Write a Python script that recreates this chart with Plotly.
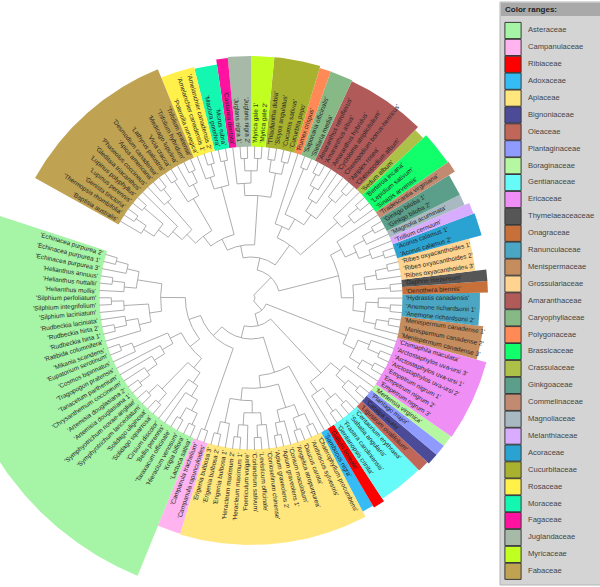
import math
import plotly.graph_objects as go

# ---------------- data ----------------
LEGEND_FAMILIES = ["Asteraceae", "Campanulaceae", "Ribiaceae", "Adoxaceae", "Apiaceae",
                   "Bignoniaceae", "Oleaceae", "Plantaginaceae", "Boraginaceae", "Gentianaceae",
                   "Ericaceae", "Thymelaeaceaceae", "Onagraceae", "Ranunculaceae", "Menispermaceae",
                   "Grossulariaceae", "Amaranthaceae", "Caryophyllaceae", "Polygonaceae", "Brassicaceae",
                   "Crassulaceae", "Ginkgoaceae", "Commelinaceae", "Magnoliaceae", "Melanthiaceae",
                   "Acoraceae", "Cucurbitaceae", "Rosaceae", "Moraceae", "Fagaceae", "Juglandaceae",
                   "Myricaceae", "Fabaceae"]

CLADES = {
    "Asteraceae": [
        [[[["Echinacea purpurea 2", "Echinacea purpurea 1"], "Echinacea purpurea 3"],
          [["Helianthus annuus", "Helianthus nuttallii"], "Helianthus mollis"]],
         [[["Silphium perfoliatum", "Silphium integrifolium"], "Silphium laciniatum"],
          [["Rudbeckia laciniata", ["Rudbeckia hirta 2", "Rudbeckia hirta 1"]], "Ratibida columnifera"]]],
        [[[["Mikania scandens", "Eupatorium serotinum"], "Cosmos bipinnatus"],
          ["Tragopogon pratensis", ["Tanacetum parthenium",
                                    ["Chrysanthemum coccineum",
                                     ["Artemisia douglasiana 2", "Artemisia douglasiana 1"]]]]],
         [[["Symphyotrichum novae-angliae", "Symphyotrichum lanceolatum"],
           ["Solidago uliginosa", "Solidago squarrosa"]],
          ["Cirsium discolor", ["Bellis perennis",
                                [["Taraxacum officinale", "Hieracium venosum"],
                                 ["Krigia biflora", "Lactuca sativa"]]]]]]],
    "Campanulaceae": ["Campanula trachelium", "Campanula rapunculoides"],
    "Apiaceae": [
        [[["Erigenia bulbosa 3", "Erigenia bulbosa 2"], "Erigenia bulbosa 1"],
         [[["Heracleum maximum 2", "Heracleum maximum 1"], "Foeniculum vulgare"],
          [["Coriandrum sativum", "Levisticum officinale"], "Conioselinum chinense"]]],
        [[["Apium graveolens 2", "Apium graveolens 1"], "Conium maculatum"],
         [["Angelica atropurpurea", "Daucus carota"],
          ["Anthriscus sylvestris", "Chaerophyllum procumbens"]]]],
    "Adoxaceae": "Sambucus nigra",
    "Ribiaceae": "Galium boreale",
    "Gentianaceae": [["Gentianopsis crinita", "Frasera caroliniensis"],
                     ["Sabatia angularis", "Centaurium erythraea"]],
    "Oleaceae": "Ligustrum ovalifolium",
    "Bignoniaceae": "Catalpa ovata",
    "Plantaginaceae": "Plantago major",
    "Boraginaceae": "Mertensia virginica",
    "Ericaceae": [[["Empetrum nigrum 3", ["Empetrum nigrum 2", "Empetrum nigrum 1"]],
                   [["Arctostaphylos uva-ursi 2", "Arctostaphylos uva-ursi 1"], "Arctostaphylos uva-ursi 3"]],
                  "Chimaphila maculata"],
    "Menispermaceae": ["Menispermum canadense 3", ["Menispermum canadense 2", "Menispermum canadense 1"]],
    "Ranunculaceae": [["Anemone richardsonii 2", "Anemone richardsonii 1"], "Hydrastis canadensis"],
    "Onagraceae": "Oenothera biennis",
    "Thymelaeaceaceae": "Daphne mezereum",
    "Grossulariaceae": ["Ribes oxyacanthoides 3", ["Ribes oxyacanthoides 2", "Ribes oxyacanthoides 1"]],
    "Acoraceae": ["Acorus calamus 2", "Acorus calamus 1"],
    "Melanthiaceae": "Trillium cernuum",
    "Magnoliaceae": "Magnolia acuminata",
    "Ginkgoaceae": ["Ginkgo biloba 2", "Ginkgo biloba 1"],
    "Commelinaceae": "Tradescantia virginiana",
    "Brassicaceae": ["Sinapis arvensis", ["Lepidium sativum", "Berteroa incana"]],
    "Crassulaceae": "Sedum album",
    "Amaranthaceae": [[["Chenopodium album", "Atriplex rosea"], "Chenopodium bonus-henricus"],
                      ["Cycloloma atriplicifolium",
                       ["Amaranthus hybridus", ["Amaranthus albus", "Amaranthus retroflexus"]]]],
    "Caryophyllaceae": ["Stellaria media", "Saponaria officinalis"],
    "Polygonaceae": "Rumex crispus",
    "Cucurbitaceae": [["Cucurbita pepo", "Cucumis sativus"], ["Sicyos angulatus", "Thladiantha dubia"]],
    "Myricaceae": ["Myrica gale 2", "Myrica gale 1"],
    "Juglandaceae": ["Juglans nigra 2", "Juglans nigra 1"],
    "Fagaceae": "Castanea dentata",
    "Moraceae": ["Morus rubra", "Maclura pomifera"],
    "Rosaceae": [["Amelanchier canadensis 2", "Amelanchier canadensis 1"], "Potentilla norvegica"],
    "Fabaceae": [[[["Trifolium pratense", "Trifolium hybridum"], "Medicago lupulina"],
                  ["Vicia cracca", "Lathyrus palustris"]],
                 [[["Desmodium canadense", "Apios americana"], "Phaseolus coccineus"],
                  ["Gleditsia triacanthos",
                   [["Lupinus polyphyllus", "Lupinus perennis"],
                    [["Genista tinctoria", "Thermopsis rhombifolia"], "Baptisia australis"]]]]],
}

BACKBONE = [
    [[[["Asteraceae", "Campanulaceae"], ["Apiaceae", "Adoxaceae"]],
      [["Ribiaceae", "Gentianaceae"], [["Oleaceae", ["Bignoniaceae", "Plantaginaceae"]], "Boraginaceae"]]],
     "Ericaceae"],
    [[[["Menispermaceae", "Ranunculaceae"], [["Onagraceae", "Thymelaeaceaceae"], "Grossulariaceae"]],
      [[["Acoraceae", "Melanthiaceae"], ["Magnoliaceae", "Ginkgoaceae"]], "Commelinaceae"]],
     [[["Brassicaceae", "Crassulaceae"], [["Amaranthaceae", "Caryophyllaceae"], "Polygonaceae"]],
      [["Cucurbitaceae", [["Myricaceae", "Juglandaceae"], "Fagaceae"]],
       [["Moraceae", "Rosaceae"], "Fabaceae"]]]],
]

# ---------------- styles / geometry ----------------
COLORS = {
    "Asteraceae": "#a6f4a6", "Campanulaceae": "#ffb4f0", "Ribiaceae": "#ff0000", "Adoxaceae": "#35bcf5",
    "Apiaceae": "#ffe77e", "Bignoniaceae": "#4b4b98", "Oleaceae": "#c0675a", "Plantaginaceae": "#8f9bff",
    "Boraginaceae": "#b6f7a2", "Gentianaceae": "#66fbf8", "Ericaceae": "#ef8ff5", "Thymelaeaceaceae": "#565656",
    "Onagraceae": "#c8703a", "Ranunculaceae": "#4aa6c2", "Menispermaceae": "#c58d5e", "Grossulariaceae": "#ffd490",
    "Amaranthaceae": "#b05a5a", "Caryophyllaceae": "#86b986", "Polygonaceae": "#ff8a55", "Brassicaceae": "#10ff6a",
    "Crassulaceae": "#adc047", "Ginkgoaceae": "#5b9f8a", "Commelinaceae": "#c38a72", "Magnoliaceae": "#a9b9c2",
    "Melanthiaceae": "#d8acff", "Acoraceae": "#2aa2d2", "Cucurbitaceae": "#a9b22f", "Rosaceae": "#fff04a",
    "Moraceae": "#14f7b0", "Fagaceae": "#ff12a0", "Juglandaceae": "#a7baa8", "Myricaceae": "#c0ff20",
    "Fabaceae": "#bfa252",
}
OUTER = {
    "Asteraceae": 300, "Campanulaceae": 246, "Apiaceae": 247, "Adoxaceae": 241, "Ribiaceae": 243,
    "Gentianaceae": 240, "Oleaceae": 241, "Bignoniaceae": 243, "Plantaginaceae": 243, "Boraginaceae": 243,
    "Ericaceae": 244, "Menispermaceae": 234, "Ranunculaceae": 229, "Onagraceae": 237, "Thymelaeaceaceae": 237,
    "Grossulariaceae": 226, "Acoraceae": 239, "Melanthiaceae": 238, "Magnoliaceae": 233, "Ginkgoaceae": 233,
    "Commelinaceae": 240, "Brassicaceae": 239, "Crassulaceae": 235, "Amaranthaceae": 239,
    "Caryophyllaceae": 240, "Polygonaceae": 240, "Cucurbitaceae": 242, "Myricaceae": 242,
    "Juglandaceae": 242, "Fagaceae": 241, "Moraceae": 236, "Rosaceae": 238, "Fabaceae": 247,
}

W, H = 600, 587
CX, CY = 251, 298          # circle centre in page pixels
R0 = 152                   # leaf-tip radius
R_ROOT = 4
START, STEP = 163.3, 2.77  # degrees
LABEL_FS = 6.4
GAP = 3
FONT = "Liberation Sans, Arial, sans-serif"

# Helvetica/Arial advance widths (1/1000 em)
_W = {' ': 278, "'": 191, '-': 333}
_W.update({c: 556 for c in "0123456789"})
_W.update(dict(zip("abcdefghijklmnopqrstuvwxyz",
                   [556, 556, 500, 556, 556, 278, 556, 556, 222, 222, 500, 222, 833, 556, 556, 556, 556,
                    333, 500, 278, 556, 500, 722, 500, 500, 500])))
_W.update(dict(zip("ABCDEFGHIJKLMNOPQRSTUVWXYZ",
                   [667, 667, 722, 722, 667, 611, 778, 722, 278, 500, 667, 556, 833, 722, 778, 667, 778,
                    722, 667, 611, 722, 667, 944, 667, 667, 611])))


def text_width(s, fs):
    return sum(_W.get(c, 556) for c in s) / 1000.0 * fs


def expand(node):
    if isinstance(node, str):
        return expand(CLADES[node]) if node in CLADES else node
    return [expand(c) for c in node]


def collect(node, out):
    if isinstance(node, str):
        out.append(node)
    else:
        for c in node:
            collect(c, out)
    return out


tree = expand(BACKBONE)
leaves = collect(tree, [])
leaf_index = {n: i for i, n in enumerate(leaves)}
fam_of = {}
for fam in CLADES:
    for n in collect(expand(CLADES[fam]), []):
        fam_of[n] = fam


def ang(i):
    return START + i * STEP


def height(node):
    return 0 if isinstance(node, str) else 1 + max(height(c) for c in node)


HT = height(tree)
UNIT = (R0 - R_ROOT) / HT


def pol(r, a):
    t = math.radians(a)
    return r * math.cos(t), r * math.sin(t)


lx, ly = [], []


def layout(node):
    if isinstance(node, str):
        return ang(leaf_index[node]), R0
    kids = [layout(c) for c in node]
    r = R0 - UNIT * height(node)
    a0, a1 = kids[0][0], kids[-1][0]
    n = max(2, int(abs(a1 - a0) / 0.7) + 2)
    for k in range(n):
        x, y = pol(r, a0 + (a1 - a0) * k / (n - 1))
        lx.append(x); ly.append(y)
    lx.append(None); ly.append(None)
    for a, rc in kids:
        x0, y0 = pol(r, a); x1, y1 = pol(rc, a)
        lx.extend([x0, x1, None]); ly.extend([y0, y1, None])
    return (a0 + a1) / 2, r


layout(tree)

fig = go.Figure()

# colour ranges
for fam in CLADES:
    idx = [leaf_index[n] for n in leaves if fam_of[n] == fam]
    a0 = ang(min(idx)) - STEP / 2
    a1 = ang(max(idx)) + STEP / 2
    ro, ri = OUTER[fam], R0 - 0.5
    n = max(4, int((a1 - a0) / 0.4) + 2)
    xs, ys = [], []
    for k in range(n):
        x, y = pol(ro, a0 + (a1 - a0) * k / (n - 1)); xs.append(x); ys.append(y)
    for k in range(n):
        x, y = pol(ri, a1 - (a1 - a0) * k / (n - 1)); xs.append(x); ys.append(y)
    fig.add_trace(go.Scatter(x=xs, y=ys, fill="toself", fillcolor=COLORS[fam], mode="lines",
                             line=dict(width=0, color=COLORS[fam]), hoverinfo="skip", showlegend=False))

# tree branches
fig.add_trace(go.Scatter(x=lx, y=ly, mode="lines", line=dict(color="#a4a4a4", width=0.9),
                         hoverinfo="skip", showlegend=False))

annotations = []
for i, name in enumerate(leaves):
    a = ang(i)
    txt = "'" + name + "'"
    w = text_width(txt, LABEL_FS)
    rc = R0 + GAP + w / 2
    an = ((a + 180) % 360) - 180
    if -90 < an <= 90:
        rot = -an
    else:
        rot = 180 - an
    rot = ((rot + 180) % 360) - 180
    x, y = pol(rc, a)
    annotations.append(dict(x=x, y=y, xref="x", yref="y", text=txt, textangle=rot, showarrow=False,
                            xanchor="center", yanchor="middle",
                            font=dict(family=FONT, size=LABEL_FS, color="#262626")))

# legend (drawn on the same axes, page-pixel layout converted to axis units)
LEG_X0, LEG_ROW0, LEG_DY = 500, 30.5, 16.9
sw_x = [513 - CX] * len(LEGEND_FAMILIES)
sw_y = [CY - (LEG_ROW0 + LEG_DY * i) for i in range(len(LEGEND_FAMILIES))]
fig.add_trace(go.Scatter(x=sw_x, y=sw_y, mode="markers",
                         marker=dict(symbol="square", size=16.2,
                                     color=[COLORS[f] for f in LEGEND_FAMILIES],
                                     line=dict(color="#3a3a3a", width=1)),
                         hoverinfo="skip", showlegend=False))
fig.add_trace(go.Scatter(x=[528 - CX] * len(LEGEND_FAMILIES), y=sw_y, mode="text",
                         text=LEGEND_FAMILIES, textposition="middle right",
                         textfont=dict(family=FONT, size=7.6, color="#444444"),
                         hoverinfo="skip", showlegend=False))
annotations.append(dict(x=503 - CX, y=CY - 9.5, xref="x", yref="y", text="<b>Color ranges:</b>",
                        showarrow=False, xanchor="left", yanchor="middle",
                        font=dict(family=FONT, size=8, color="#222222")))

shapes = [
    dict(type="rect", xref="x", yref="y", x0=LEG_X0 - CX, x1=W - CX + 3, y0=CY - 585, y1=CY - 2,
         fillcolor="#d4d4d4", line=dict(color="#b4b4b4", width=1), layer="below"),
    dict(type="rect", xref="x", yref="y", x0=LEG_X0 - CX + 1, x1=W - CX + 3, y0=CY - 16, y1=CY - 3,
         fillcolor="#a9a9a9", line=dict(width=0), layer="below"),
]

fig.update_layout(
    width=W, height=H, margin=dict(l=0, r=0, t=0, b=0),
    paper_bgcolor="white", plot_bgcolor="white",
    xaxis=dict(range=[-CX, W - CX], visible=False, fixedrange=True),
    yaxis=dict(range=[CY - H, CY], visible=False, fixedrange=True),
    annotations=annotations, shapes=shapes, showlegend=False,
)

fig.write_html("out.html", config={"displayModeBar": False},
               post_script="document.body.style.margin='0px';document.body.style.padding='0px';")
